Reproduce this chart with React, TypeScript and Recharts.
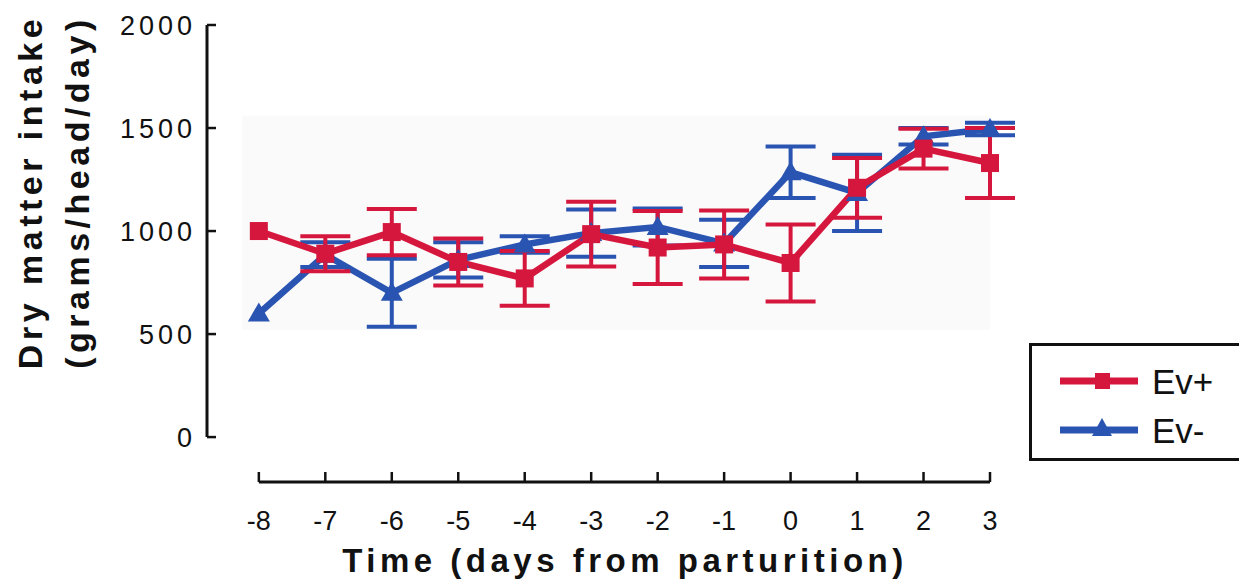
import React from 'react';
import { LineChart, Line, XAxis, YAxis, ErrorBar, ReferenceLine, ReferenceArea } from 'recharts';

const days = [-8, -7, -6, -5, -4, -3, -2, -1, 0, 1, 2, 3];
const evPlus = [1000, 890, 995, 850, 770, 985, 920, 935, 845, 1210, 1400, 1330];
const evPlusErr = [null, 85, 112, 114, 133, 157, 177, 165, 187, 145, 97, 170];
const evMinus = [600, 885, 700, 860, 935, 990, 1020, 940, 1285, 1185, 1460, 1495];
const evMinusErr = [null, 60, 165, 85, 40, 115, 90, 115, 125, 185, 40, 30];
const yTicks = [0, 500, 1000, 1500, 2000];

const RED = '#d6173d';
const BLUE = '#2a54b2';
const FONT = '"Liberation Sans", Arial, sans-serif';

// axis extents (x axis sits below zero, y axis starts left of -8)
const xMin = -8.78;
const yMin = -218;

const data = days.map((d, i) => ({
  day: d,
  plus: evPlus[i],
  plusErr: evPlusErr[i],
  minus: evMinus[i],
  minusErr: evMinusErr[i],
}));

const YTick = (props: any) => {
  const { x, y, payload } = props;
  return (
    <g>
      <line x1={x} x2={x + 9} y1={y} y2={y} stroke="#111" strokeWidth={2.5} />
      <text x={x - 11} y={y} dy={10} textAnchor="end" fontSize={27} letterSpacing={4} fill="#111" fontFamily={FONT}>
        {payload.value}
      </text>
    </g>
  );
};

const XTick = (props: any) => {
  const { x, y, payload } = props;
  return (
    <g>
      <line x1={x} x2={x} y1={y} y2={y - 10} stroke="#111" strokeWidth={2.5} />
      <text x={x} y={y} dy={48} textAnchor="middle" fontSize={27} fill="#111" fontFamily={FONT}>
        {payload.value}
      </text>
    </g>
  );
};

const Square = (props: any) => {
  const { cx, cy, index } = props;
  return <rect key={`sq-${index}`} x={cx - 9} y={cy - 9} width={18} height={18} fill={RED} />;
};

const Triangle = (props: any) => {
  const { cx, cy, index } = props;
  return (
    <polygon
      key={`tr-${index}`}
      points={`${cx},${cy - 11} ${cx - 11},${cy + 8} ${cx + 11},${cy + 8}`}
      fill={BLUE}
    />
  );
};

const LegendBox = () => (
  <div
    style={{
      position: 'absolute',
      left: 1029,
      top: 343,
      width: 220,
      height: 112,
      border: '3px solid #111',
      background: '#fff',
      fontFamily: FONT,
    }}
  >
    <svg width={220} height={112} style={{ position: 'absolute', left: 0, top: 0 }}>
      <line x1={28} x2={106} y1={35} y2={35} stroke={RED} strokeWidth={7} />
      <rect x={63} y={27} width={15} height={16} fill={RED} />
      <text x={120} y={48} fontSize={35} fill="#111" fontFamily={FONT}>Ev+</text>
      <line x1={28} x2={106} y1={84} y2={84} stroke={BLUE} strokeWidth={7} />
      <polygon points="70,72 60,90 80,90" fill={BLUE} />
      <text x={120} y={97} fontSize={35} fill="#111" fontFamily={FONT}>Ev-</text>
    </svg>
  </div>
);

const titleStyle: React.CSSProperties = {
  position: 'absolute',
  whiteSpace: 'nowrap',
  fontFamily: FONT,
  fontWeight: 'bold',
  color: '#111',
};

export default function App() {
  return (
    <div style={{ position: 'absolute', left: 0, top: 0, width: 1239, height: 580, background: '#fff', overflow: 'hidden' }}>
      <LineChart width={1239} height={580} data={data} margin={{ top: 25, right: 249, bottom: 0, left: 0 }}>
        <ReferenceArea x1={-8.25} x2={3} y1={520} y2={1560} fill="#fafafa" fillOpacity={1} stroke="none" />
        <XAxis
          type="number"
          dataKey="day"
          domain={[xMin, 3]}
          ticks={days}
          height={98}
          axisLine={false}
          tickLine={false}
          tickSize={0}
          tickMargin={0}
          tick={<XTick />}
          interval={0}
        />
        <YAxis
          type="number"
          domain={[yMin, 2000]}
          ticks={yTicks}
          width={207}
          axisLine={false}
          tickLine={false}
          tickSize={0}
          tickMargin={0}
          tick={<YTick />}
          interval={0}
        />
        <ReferenceLine segment={[{ x: xMin, y: 0 }, { x: xMin, y: 2000 }]} stroke="#111" strokeWidth={3} />
        <ReferenceLine segment={[{ x: -8, y: yMin }, { x: 3, y: yMin }]} stroke="#111" strokeWidth={3} />
        <Line
          dataKey="minus"
          stroke={BLUE}
          strokeWidth={6.5}
          dot={Triangle}
          activeDot={false}
          isAnimationActive={false}
        >
          <ErrorBar dataKey="minusErr" width={25} strokeWidth={4} stroke={BLUE} direction="y" />
        </Line>
        <Line
          dataKey="plus"
          stroke={RED}
          strokeWidth={6.5}
          dot={Square}
          activeDot={false}
          isAnimationActive={false}
        >
          <ErrorBar dataKey="plusErr" width={25} strokeWidth={4} stroke={RED} direction="y" />
        </Line>
      </LineChart>
      <div
        style={{
          ...titleStyle,
          left: 30,
          top: 192,
          transform: 'translate(-50%, -50%) rotate(-90deg)',
          fontSize: 34,
          letterSpacing: 4.5,
          lineHeight: '34px',
        }}
      >
        Dry matter intake
      </div>
      <div
        style={{
          ...titleStyle,
          left: 77,
          top: 192,
          transform: 'translate(-50%, -50%) rotate(-90deg)',
          fontSize: 34,
          letterSpacing: 4.5,
          lineHeight: '34px',
        }}
      >
        (grams/head/day)
      </div>
      <div
        style={{
          ...titleStyle,
          left: 625,
          top: 560,
          transform: 'translate(-50%, -50%)',
          fontSize: 33,
          letterSpacing: 4.5,
          lineHeight: '33px',
        }}
      >
        Time (days from parturition)
      </div>
      <LegendBox />
    </div>
  );
}
